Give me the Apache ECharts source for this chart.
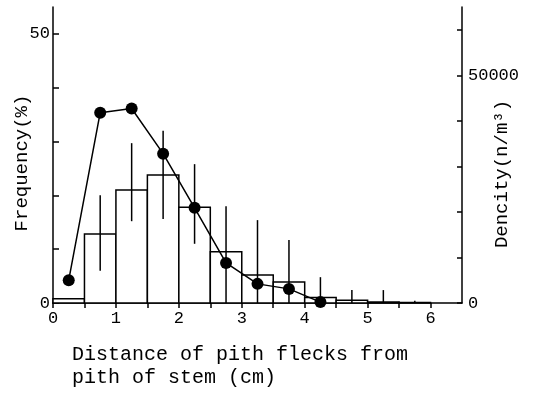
<!DOCTYPE html>
<html>
<head>
<meta charset="utf-8">
<script src="https://cdn.jsdelivr.net/npm/echarts@6/dist/echarts.min.js"></script>
<style>
  html, body { margin: 0; padding: 0; background: #fff; }
  #chart { width: 545px; height: 393px; }
</style>
</head>
<body>
<div id="chart"></div>
<script>
// histogram bins (cm) and frequency (%)
const binStart = [0, 0.5, 1, 1.5, 2, 2.5, 3, 3.5, 4, 4.5, 5, 5.5];
const binEnd = [0.5, 1, 1.5, 2, 2.5, 3, 3.5, 4, 4.5, 5, 5.5, 6];
const frequency = [0.8, 12.8, 21, 23.8, 17.8, 9.5, 5.2, 3.9, 1, 0.5, 0.2, 0.1];

// error bar ranges for frequency, at bin centres
const errX = [0.75, 1.25, 1.75, 2.25, 2.75, 3.25, 3.75, 4.25, 4.75, 5.25, 5.75];
const errLow = [6, 15.2, 15.6, 11, 0, 0, 0, 0, 0, 0, 0];
const errHigh = [20, 29.7, 32, 25.8, 18, 15.4, 11.7, 4.8, 2.4, 2.4, 0.4];

// density of pith flecks (n/m3)
const densX = [0.25, 0.75, 1.25, 1.75, 2.25, 2.75, 3.25, 3.75, 4.25];
const density = [5000, 41800, 42700, 32800, 20900, 8800, 4200, 3100, 200];

const xTicks = [0, 0.5, 1, 1.5, 2, 2.5, 3, 3.5, 4, 4.5, 5, 5.5, 6];
const xLabels = [0, 1, 2, 3, 4, 5, 6];
const leftTicks = [0, 10, 20, 30, 40, 50];
const leftLabels = [0, 50];
const rightTicks = [0, 10000, 20000, 30000, 40000, 50000, 60000];
const rightLabels = [0, 50000];

const FONT = '"Liberation Mono", "DejaVu Sans Mono", monospace';
const ink = '#000';

const chart = echarts.init(document.getElementById('chart'));

const option = {
  backgroundColor: '#fff',
  animation: false,
  grid: { left: 53, right: 83, top: 7, bottom: 90 },
  xAxis: {
    type: 'value',
    min: 0,
    max: 6.5,
    axisLine: { lineStyle: { color: ink, width: 1.5 } },
    axisTick: { customValues: xTicks, length: 5, lineStyle: { color: ink, width: 1.5 } },
    axisLabel: { customValues: xLabels, margin: 7, color: ink, fontFamily: FONT, fontSize: 17 },
    splitLine: { show: false }
  },
  yAxis: [
    {
      type: 'value',
      min: 0,
      max: 55,
      axisLine: { show: true, lineStyle: { color: ink, width: 1.5 } },
      axisTick: { customValues: leftTicks, inside: true, length: 6, lineStyle: { color: ink, width: 1.5 } },
      axisLabel: { customValues: leftLabels, margin: 3, color: ink, fontFamily: FONT, fontSize: 17 },
      splitLine: { show: false }
    },
    {
      type: 'value',
      min: 0,
      max: 65000,
      position: 'right',
      axisLine: { show: true, lineStyle: { color: ink, width: 1.5 } },
      axisTick: { customValues: rightTicks, inside: true, length: 5, lineStyle: { color: ink, width: 1.5 } },
      axisLabel: {
        customValues: rightLabels,
        formatter: v => String(v),
        margin: 6,
        color: ink,
        fontFamily: FONT,
        fontSize: 17
      },
      splitLine: { show: false }
    }
  ],
  graphic: [
    {
      type: 'text',
      x: 22,
      y: 163,
      rotation: Math.PI / 2,
      style: {
        text: 'Frequency(%)',
        font: '19px ' + FONT,
        fill: ink,
        align: 'center',
        verticalAlign: 'middle'
      }
    },
    {
      type: 'text',
      x: 502,
      y: 174,
      rotation: Math.PI / 2,
      style: {
        text: 'Dencity(n/m³)',
        font: '19px ' + FONT,
        fill: ink,
        align: 'center',
        verticalAlign: 'middle'
      }
    },
    {
      type: 'text',
      left: 72,
      top: 343,
      style: {
        text: 'Distance of pith flecks from\npith of stem (cm)',
        font: '20px ' + FONT,
        lineHeight: 23,
        fill: ink
      }
    }
  ],
  series: [
    {
      type: 'custom',
      name: 'Frequency',
      xAxisIndex: 0,
      yAxisIndex: 0,
      data: binStart.map((s, i) => [s, binEnd[i], frequency[i]]),
      encode: { x: [0, 1], y: 2 },
      z: 2,
      renderItem: function (params, api) {
        const p0 = api.coord([api.value(0), api.value(2)]);
        const p1 = api.coord([api.value(1), 0]);
        return {
          type: 'rect',
          shape: { x: p0[0], y: p0[1], width: p1[0] - p0[0], height: p1[1] - p0[1] },
          style: { fill: '#fff', stroke: ink, lineWidth: 1.5 }
        };
      }
    },
    {
      type: 'custom',
      name: 'Range',
      xAxisIndex: 0,
      yAxisIndex: 0,
      data: errX.map((x, i) => [x, errLow[i], errHigh[i]]),
      encode: { x: 0, y: [1, 2] },
      z: 3,
      renderItem: function (params, api) {
        const a = api.coord([api.value(0), api.value(1)]);
        const b = api.coord([api.value(0), api.value(2)]);
        return {
          type: 'line',
          shape: { x1: a[0], y1: a[1], x2: b[0], y2: b[1] },
          style: { stroke: ink, lineWidth: 1.5 }
        };
      }
    },
    {
      type: 'line',
      name: 'Density',
      xAxisIndex: 0,
      yAxisIndex: 1,
      data: densX.map((x, i) => [x, density[i]]),
      symbol: 'circle',
      symbolSize: 12,
      itemStyle: { color: ink },
      lineStyle: { color: ink, width: 1.5 },
      z: 4
    }
  ]
};

chart.setOption(option);
</script>
</body>
</html>
